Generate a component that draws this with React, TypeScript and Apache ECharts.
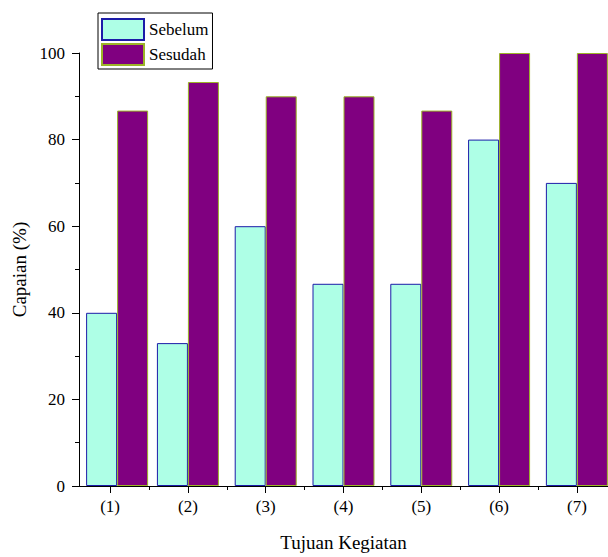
import React, { useEffect, useRef } from "react";
import * as echarts from "echarts";

const categoryLabels = ["(1)", "(2)", "(3)", "(4)", "(5)", "(6)", "(7)"];
const categoryPositions = [1.09, 2, 3, 4, 5, 6, 7];
const sebelum = [40, 33, 60, 46.7, 46.7, 80, 70];
const sesudah = [86.7, 93.3, 90, 90, 86.7, 100, 100];
const majorTickValues = [1, 2, 3, 4, 5, 6, 7];
const minorTickValues = [1.5, 2.5, 3.5, 4.5, 5.5, 6.5];

const FONT = "Times New Roman, serif";

export default function App() {
  const ref = useRef<HTMLDivElement>(null);
  useEffect(() => {
    if (!ref.current) return;
    const chart = echarts.init(ref.current, null, { renderer: "svg" });
    const xBase = {
      type: "value" as const,
      min: 0.6,
      max: 7.4,
      position: "bottom" as const,
      splitLine: { show: false },
    };
    chart.setOption({
      animation: false,
      backgroundColor: "#ffffff",
      textStyle: { fontFamily: FONT },
      grid: { left: 79, top: 53, right: -1, bottom: 69 },
      legend: {
        orient: "vertical",
        left: 98,
        top: 13,
        itemWidth: 42,
        itemHeight: 21,
        itemGap: 2,
        padding: [5, 4, 3, 3],
        borderColor: "#000",
        borderWidth: 1,
        icon: "rect",
        textStyle: { fontSize: 17, color: "#000", fontFamily: FONT },
        data: ["Sebelum", "Sesudah"],
      },
      xAxis: [
        {
          ...xBase,
          name: "Tujuan Kegiatan",
          nameLocation: "middle",
          nameGap: 47,
          nameTextStyle: { fontSize: 19, color: "#000", fontFamily: FONT },
          axisLine: { show: true, lineStyle: { color: "#000", width: 1 } },
          axisTick: {
            show: true,
            customValues: majorTickValues,
            length: 7,
            lineStyle: { color: "#000", width: 1 },
          },
          axisLabel: {
            show: true,
            customValues: majorTickValues,
            margin: 12,
            fontSize: 17,
            color: "#000",
            fontFamily: FONT,
            formatter: (v: number) => {
              const i = majorTickValues.indexOf(Math.round(v));
              return i >= 0 ? categoryLabels[i] : "";
            },
          },
        },
        {
          ...xBase,
          axisLine: { show: false },
          axisTick: {
            show: true,
            customValues: minorTickValues,
            length: 4,
            lineStyle: { color: "#000", width: 1 },
          },
          axisLabel: { show: false },
        },
      ],
      yAxis: {
        type: "value",
        min: 0,
        max: 100,
        interval: 20,
        name: "Capaian (%)",
        nameLocation: "middle",
        nameGap: 44,
        nameTextStyle: { fontSize: 19, color: "#000", fontFamily: FONT },
        splitLine: { show: false },
        axisLine: { show: true, lineStyle: { color: "#000", width: 1 } },
        axisTick: { show: true, length: 7, lineStyle: { color: "#000", width: 1 } },
        minorTick: { show: true, splitNumber: 2, length: 4, lineStyle: { color: "#000", width: 1 } },
        minorSplitLine: { show: false },
        axisLabel: { margin: 14, fontSize: 17, color: "#000", fontFamily: FONT },
      },
      series: [
        {
          name: "Sebelum",
          type: "bar",
          xAxisIndex: 0,
          barWidth: 31,
          barGap: "0%",
          itemStyle: { color: "#AEFFE6", borderColor: "#1c1ca8", borderWidth: 1 },
          data: sebelum.map((v, i) => [categoryPositions[i], v]),
        },
        {
          name: "Sesudah",
          type: "bar",
          xAxisIndex: 0,
          barWidth: 31,
          barGap: "0%",
          itemStyle: { color: "#800080", borderColor: "#9CB428", borderWidth: 1 },
          data: sesudah.map((v, i) => [categoryPositions[i], v]),
        },
      ],
    });
    return () => chart.dispose();
  }, []);
  return (
    <div
      ref={ref}
      style={{ position: "fixed", left: 0, top: 0, width: 608, height: 557, background: "#fff" }}
    />
  );
}
